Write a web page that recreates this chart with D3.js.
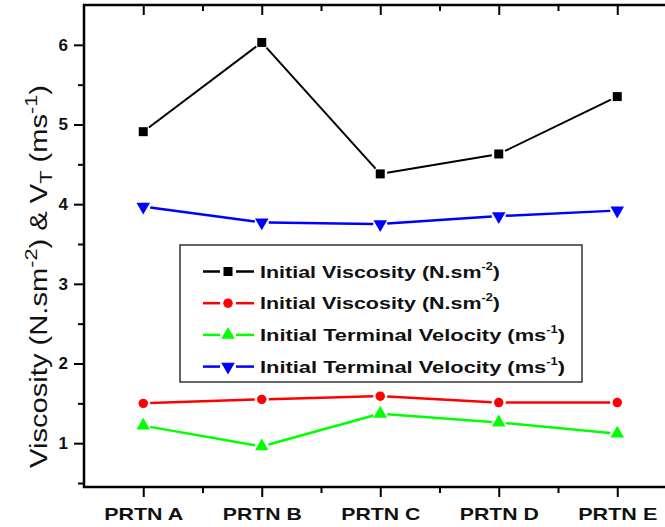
<!DOCTYPE html>
<html>
<head>
<meta charset="utf-8">
<script src="https://cdn.jsdelivr.net/npm/d3@7"></script>
<style>
  html, body { margin: 0; padding: 0; background: #fff; }
  svg { display: block; font-family: "Liberation Sans", Arial, sans-serif; }
</style>
</head>
<body>
<svg id="chart" width="665" height="527"></svg>
<script>
// ---- data ----
const categories = ["PRTN A", "PRTN B", "PRTN C", "PRTN D", "PRTN E"];
const viscosityBlack = [4.91, 6.03, 4.38, 4.63, 5.35];
const viscosityRed   = [1.50, 1.55, 1.59, 1.51, 1.51];
const velocityGreen  = [1.22, 0.96, 1.37, 1.26, 1.12];
const velocityBlue   = [3.97, 3.77, 3.75, 3.85, 3.92];
const yMajorTicks = [1, 2, 3, 4, 5, 6];
const yMinorTicks = [0.5, 1.5, 2.5, 3.5, 4.5, 5.5];
const legendLabels = [
  ["Initial Viscosity (N.sm", "-2", ")"],
  ["Initial Viscosity (N.sm", "-2", ")"],
  ["Initial Terminal Velocity (ms", "-1", ")"],
  ["Initial Terminal Velocity (ms", "-1", ")"]
];

const series = [
  { values: viscosityBlack, color: "#000000", symbol: "square" },
  { values: viscosityRed,   color: "#ff0000", symbol: "circle" },
  { values: velocityGreen,  color: "#00ff00", symbol: "triangle" },
  { values: velocityBlue,   color: "#0000ff", symbol: "triangleDown" }
];

const svg = d3.select("#chart");
const padL = 84, padT = 5, padB = 487, W = 665;
const step = 118.5;

const x = d3.scaleLinear().domain([-0.5, categories.length - 0.5])
  .range([padL, padL + step * categories.length]);
const y = d3.scaleLinear().domain([0.45, 6.5]).range([padB, padT]);

const symbolGen = (s) => {
  if (s === "square") return d3.symbol(d3.symbolSquare, 81)();
  if (s === "circle") return d3.symbol(d3.symbolCircle, 70)();
  return d3.symbol(d3.symbolTriangle, 80)();
};

// ---- axes ----
const axisG = svg.append("g");
const idx = d3.range(categories.length);
const mids = idx.map(i => i + 0.5).filter(v => x(v) < W);

// bottom axis
const bAxis = d3.axisBottom(x).tickValues(idx).tickSize(10).tickFormat(i => categories[i]).tickSizeOuter(0);
const gb = axisG.append("g").attr("transform", `translate(0,${padB})`).call(bAxis);
gb.select(".domain").remove();
gb.selectAll(".tick line").attr("stroke", "#000").attr("stroke-width", 2);
gb.selectAll(".tick text").attr("font-size", 17).attr("font-weight", "bold").attr("fill", "#111")
  .attr("font-family", "Liberation Sans, Arial, sans-serif")
  .attr("dy", 0).attr("y", 33).attr("textLength", 79).attr("lengthAdjust", "spacingAndGlyphs");
const gbm = axisG.append("g").attr("transform", `translate(0,${padB})`)
  .call(d3.axisBottom(x).tickValues(mids).tickSize(6).tickFormat(""));
gbm.select(".domain").remove();
gbm.selectAll(".tick line").attr("stroke", "#000").attr("stroke-width", 2);

// top axis (ticks inward)
const gt = axisG.append("g").attr("transform", `translate(0,${padT})`)
  .call(d3.axisBottom(x).tickValues(idx).tickSize(10).tickFormat(""));
gt.select(".domain").remove();
gt.selectAll(".tick line").attr("stroke", "#000").attr("stroke-width", 2);
const gtm = axisG.append("g").attr("transform", `translate(0,${padT})`)
  .call(d3.axisBottom(x).tickValues(mids).tickSize(6).tickFormat(""));
gtm.select(".domain").remove();
gtm.selectAll(".tick line").attr("stroke", "#000").attr("stroke-width", 2);

// left axis
const gl = axisG.append("g").attr("transform", `translate(${padL},0)`)
  .call(d3.axisLeft(y).tickValues(yMajorTicks).tickSize(10).tickFormat(d3.format("d")));
gl.select(".domain").remove();
gl.selectAll(".tick line").attr("stroke", "#000").attr("stroke-width", 2);
gl.selectAll(".tick text").attr("font-size", 17).attr("font-weight", "bold").attr("fill", "#111")
  .attr("font-family", "Liberation Sans, Arial, sans-serif").attr("x", -16);
const glm = axisG.append("g").attr("transform", `translate(${padL},0)`)
  .call(d3.axisLeft(y).tickValues(yMinorTicks).tickSize(6).tickFormat(""));
glm.select(".domain").remove();
glm.selectAll(".tick line").attr("stroke", "#000").attr("stroke-width", 2);

// frame lines
axisG.append("line").attr("x1", padL - 1).attr("x2", W).attr("y1", padB).attr("y2", padB)
  .attr("stroke", "#000").attr("stroke-width", 2.5);
axisG.append("line").attr("x1", padL - 1).attr("x2", W).attr("y1", padT).attr("y2", padT)
  .attr("stroke", "#000").attr("stroke-width", 2.5);
axisG.append("line").attr("x1", padL).attr("x2", padL).attr("y1", padT - 1).attr("y2", padB + 1)
  .attr("stroke", "#000").attr("stroke-width", 2.5);

// y title
const yt = svg.append("text")
  .attr("transform", `translate(47,${(85 + 468) / 2}) rotate(-90)`)
  .attr("text-anchor", "middle")
  .attr("font-size", 23).attr("fill", "#111")
  .attr("textLength", 383).attr("lengthAdjust", "spacingAndGlyphs");
yt.append("tspan").text("Viscosity (N.sm");
yt.append("tspan").attr("dy", -10).attr("font-size", 17).text("-2");
yt.append("tspan").attr("dy", 10).text(") & V");
yt.append("tspan").attr("dy", 5).attr("font-size", 17).text("T");
yt.append("tspan").attr("dy", -5).text(" (ms");
yt.append("tspan").attr("dy", -10).attr("font-size", 17).text("-1");
yt.append("tspan").attr("dy", 10).text(")");

// ---- series ----
const gap = 7;
series.forEach(s => {
  const g = svg.append("g");
  const pts = s.values.map((v, i) => [x(i), y(v)]);
  for (let i = 0; i < pts.length - 1; i++) {
    const [x1, y1] = pts[i], [x2, y2] = pts[i + 1];
    const len = Math.hypot(x2 - x1, y2 - y1);
    const ux = (x2 - x1) / len, uy = (y2 - y1) / len;
    g.append("line")
      .attr("x1", x1 + ux * gap).attr("y1", y1 + uy * gap)
      .attr("x2", x2 - ux * gap).attr("y2", y2 - uy * gap)
      .attr("stroke", s.color).attr("stroke-width", s.color === "#000000" ? 2 : 2.5);
  }
  g.selectAll("path").data(s.values).join("path")
    .attr("d", symbolGen(s.symbol))
    .attr("transform", (v, i) => `translate(${x(i)},${y(v)})` + (s.symbol === "triangleDown" ? " rotate(180)" : ""))
    .attr("fill", s.color);
});

// ---- legend ----
const lg = svg.append("g");
lg.append("rect").attr("x", 180).attr("y", 245).attr("width", 402).attr("height", 137)
  .attr("fill", "#fff").attr("stroke", "#333").attr("stroke-width", 1.5);
const legendText = [240, 240, 305, 305];
series.forEach((s, k) => {
  const cy = 271.5 + k * 31.7;
  lg.append("line").attr("x1", 203).attr("x2", 220).attr("y1", cy).attr("y2", cy)
    .attr("stroke", s.color).attr("stroke-width", 2.5);
  lg.append("line").attr("x1", 236).attr("x2", 254).attr("y1", cy).attr("y2", cy)
    .attr("stroke", s.color).attr("stroke-width", 2.5);
  lg.append("path").attr("d", symbolGen(s.symbol))
    .attr("transform", `translate(228,${cy})` + (s.symbol === "triangleDown" ? " rotate(180)" : ""))
    .attr("fill", s.color);
  const t = lg.append("text").attr("x", 260).attr("y", cy + 6)
    .attr("font-size", 17).attr("font-weight", "bold").attr("fill", "#111")
    .attr("textLength", legendText[k]).attr("lengthAdjust", "spacingAndGlyphs");
  const lab = legendLabels[k];
  t.append("tspan").text(lab[0]);
  t.append("tspan").attr("dy", -8).attr("font-size", 10).text(lab[1]);
  t.append("tspan").attr("dy", 8).text(lab[2]);
});
</script>
</body>
</html>
